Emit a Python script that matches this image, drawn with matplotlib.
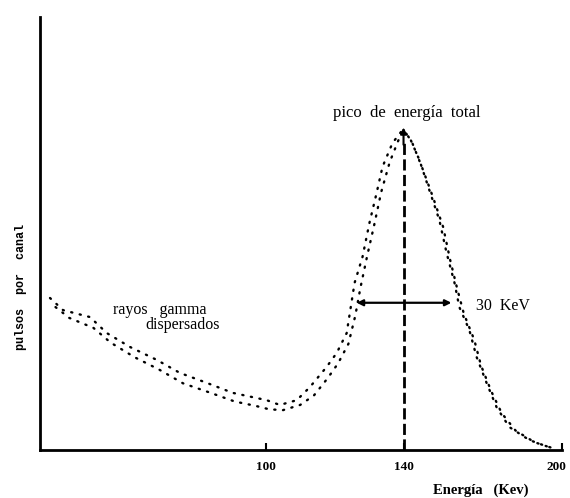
import numpy as np
import matplotlib.pyplot as plt
from matplotlib.transforms import ScaledTranslation

# espectro de pulsos (dos filas de puntos)
energiaA = [37.4, 41.2, 49.0, 53.9, 60.6, 68.4, 75.1, 82.9, 90.4, 100.3, 104.1, 109.0,
            112.8, 117.7, 120.6, 123.5, 125.8, 128.1, 130.1, 132.2, 133.9, 136.8, 139.7,
            141.7, 144.6, 147.5, 150.4, 152.5, 154.8, 156.2, 159.1, 161.2, 164.1, 167.0,
            170.7, 176.5, 180.3, 183.8]
pulsosA = [35.1, 32.3, 30.7, 27.0, 23.8, 20.8, 17.8, 15.5, 13.2, 11.5, 10.4, 11.5,
           14.5, 19.2, 22.4, 27.0, 38.6, 44.6, 52.4, 59.4, 65.4, 70.9, 73.9,
           72.3, 67.0, 60.0, 53.1, 45.5, 38.6, 33.0, 27.7, 21.5, 15.5, 9.9,
           5.3, 2.3, 1.2, 0.3]

energiaB = [39.0, 43.0, 50.0, 55.0, 62.0, 69.0, 76.0, 84.0, 91.0, 97.0, 101.0, 105.0,
            110.0, 114.0, 118.0, 121.0, 124.0, 126.0, 127.5, 129.5, 131.5, 133.5, 136.0,
            138.5, 140.5, 142.5, 145.5, 148.5, 151.5, 153.5, 155.5, 157.5, 160.5, 162.5,
            165.5, 168.5, 172.5, 178.0, 182.5]
pulsosB = [33.0, 30.5, 28.2, 24.8, 21.4, 18.6, 15.4, 13.2, 11.2, 10.2, 9.4, 9.2,
           10.4, 12.6, 16.6, 20.0, 24.5, 31.0, 37.5, 45.0, 52.0, 59.5, 66.5,
           71.5, 73.5, 71.0, 65.0, 58.5, 51.5, 44.0, 37.5, 31.5, 25.5, 19.5,
           13.5, 8.5, 4.5, 1.8, 0.6]

pico = 140.0
alturaPico = 74.5
fwhmIzq, fwhmDer, fwhmAltura = 126.4, 153.9, 34.0

tickPos = [100, 140, 186]
tickLabels = ['100', '140', '200']

plt.rcParams['font.family'] = ['Liberation Serif', 'DejaVu Serif']

fig = plt.figure(figsize=(5.70, 4.98), dpi=100)
ax = fig.add_axes([0.0702, 0.0964, 0.9158, 0.8695])

estilo = dict(color='black', lw=1.7, linestyle=(0, (0.5, 3.2)), dash_capstyle='round')
ax.plot(energiaA, pulsosA, **estilo)
ax.plot(energiaB, pulsosB, **estilo)

# linea del pico
ax.plot([pico, pico], [0, alturaPico - 3], color='black', lw=2, dashes=(4, 1.6))
ax.annotate('', xy=(pico, alturaPico), xytext=(pico, alturaPico - 4),
            arrowprops=dict(arrowstyle='-|>', color='black', lw=1.5,
                            mutation_scale=9, shrinkA=0, shrinkB=0))

# anchura a media altura
ax.annotate('', xy=(fwhmIzq, fwhmAltura), xytext=(fwhmDer, fwhmAltura),
            arrowprops=dict(arrowstyle='<|-|>', color='black', lw=1.6,
                            mutation_scale=9, shrinkA=0, shrinkB=0))

ax.text(140.9, 77.8, 'pico  de  energía  total', ha='center', va='center', fontsize=12)
ax.text(69.3, 32.3, 'rayos   gamma', ha='center', va='center', fontsize=11.5)
ax.text(76.0, 28.9, 'dispersados', ha='center', va='center', fontsize=11.5)
ax.text(168.9, 33.3, '30  KeV', ha='center', va='center', fontsize=11.5)

ax.set_xlim(34.5, 186)
ax.set_ylim(0, 100)

ax.set_xticks(tickPos)
ax.set_xticklabels(tickLabels, fontsize=9.5, fontweight='bold')
ax.set_yticks([])
ax.tick_params(axis='x', direction='in', length=5, width=1.5, pad=8)

# la ultima etiqueta queda al borde: se corre un poco a la izquierda
ultima = ax.get_xticklabels()[-1]
ultima.set_transform(ultima.get_transform() + ScaledTranslation(-6 / 100, 0, fig.dpi_scale_trans))

ax.set_xlabel('Energía   (Kev)', fontsize=10.5, fontweight='bold')
ax.xaxis.set_label_coords(0.845, -0.092)
ax.xaxis.label.set_va('center')
ax.set_ylabel('pulsos  por  canal', fontsize=8.5, fontweight='bold',
              family=['Liberation Mono', 'DejaVu Sans Mono'])
ax.yaxis.set_label_coords(-0.036, 0.376)
ax.yaxis.label.set_va('center')

for s in ['top', 'right']:
    ax.spines[s].set_visible(False)
ax.spines['left'].set_linewidth(2)
ax.spines['bottom'].set_linewidth(2)

fig.savefig('out.png', dpi=100)
